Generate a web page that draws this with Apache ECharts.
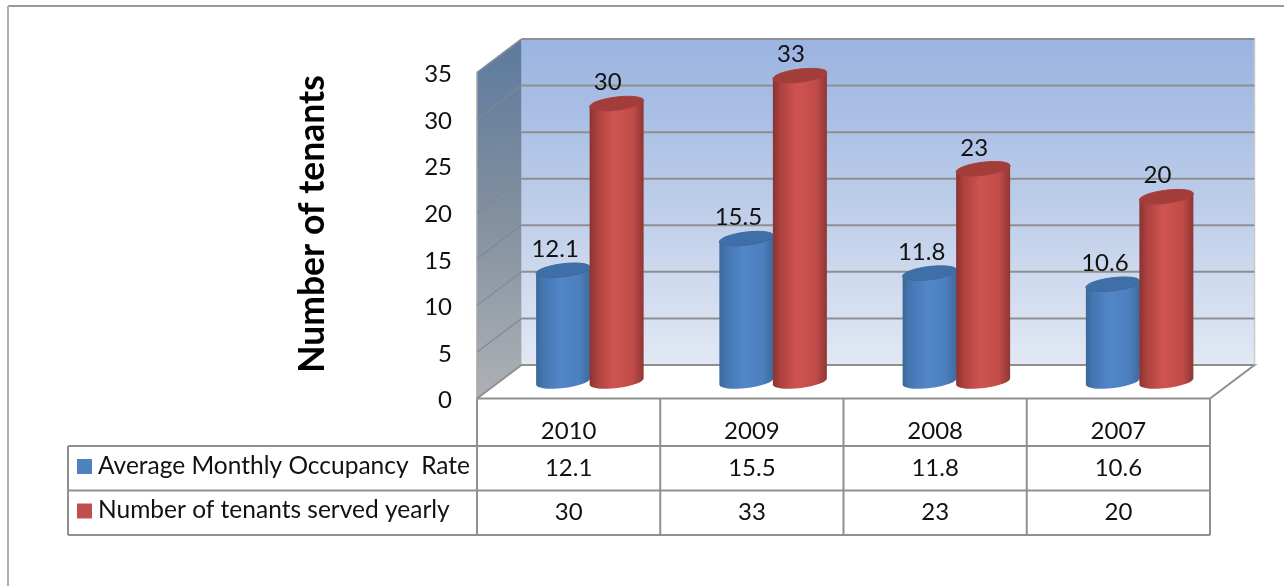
<!DOCTYPE html>
<html><head><meta charset="utf-8">
<style>html,body{margin:0;padding:0;background:#fff}#c{width:1284px;height:586px}</style>
<script src="https://cdn.jsdelivr.net/npm/echarts@6/dist/echarts.min.js"></script>
</head><body><div id="c"></div>
<script>
const categories = ['2010', '2009', '2008', '2007'];
const occupancyName = 'Average Monthly Occupancy  Rate';
const tenantsName = 'Number of tenants served yearly';
const occupancy = [12.1, 15.5, 11.8, 10.6];
const tenants = [30, 33, 23, 20];
const yTicks = [0, 5, 10, 15, 20, 25, 30, 35];
const yTitle = 'Number of tenants';

const FONT = 'Lato';
const FS = 24;
const DX = 44.5, DY = -33.5;
const LINE = '#8f8f8f';
const chart = echarts.init(document.getElementById('c'), null, {renderer: 'canvas'});

function linear(stops, vertical) {
  return {type: 'linear', x: 0, y: 0, x2: vertical ? 0 : 1, y2: vertical ? 1 : 0,
    colorStops: stops.map(s => ({offset: s[0], color: s[1]}))};
}
function cylinder(offset, body, cap, capEdge, labelDx) {
  return function (params, api) {
    const i = api.value(0), v = api.value(1);
    const top = api.coord([i, v]), base = api.coord([i, 0]);
    const cx = top[0] + offset, rx = 27, ry = 6.5, t = 3.3;
    const ty = top[1] - 15.5, by = base[1] - 17;
    const rot = -7;
    const d = `M${cx - rx} ${ty + t} L${cx - rx} ${by + t} A${rx} ${ry} ${rot} 0 0 ${cx + rx} ${by - t} L${cx + rx} ${ty - t} Z`;
    const e = `M${cx - rx} ${ty + t} A${rx} ${ry} ${rot} 0 1 ${cx + rx} ${ty - t} A${rx} ${ry} ${rot} 0 1 ${cx - rx} ${ty + t} Z`;
    return {type: 'group', children: [
      {type: 'path', shape: {pathData: d}, style: {fill: linear(body), stroke: null}},
      {type: 'path', shape: {pathData: e}, style: {fill: cap, stroke: capEdge, lineWidth: 1}},
      {type: 'text', x: cx + labelDx, y: ty - 21, style: {text: String(v), font: FS + 'px ' + FONT, fill: '#111', align: 'center', verticalAlign: 'middle'}}
    ]};
  };
}
const blueBody = [[0, '#3a6797'], [0.12, '#4375b0'], [0.45, '#5286c9'], [0.8, '#4c7fbe'], [1, '#3f6a9b']];
const redBody = [[0, '#873331'], [0.14, '#ad413e'], [0.45, '#cf5451'], [0.8, '#c04b48'], [1, '#8f3633']];

const walls = function (params, api) {
  const c = params.coordSys, x0 = c.x, x1 = c.x + c.width, y0 = c.y, y1 = c.y + c.height;
  return {type: 'group', children: [
    {type: 'polygon', shape: {points: [[x0 + DX, y0 + DY], [x1 + DX, y0 + DY], [x1 + DX, y1 + DY], [x0 + DX, y1 + DY]]},
      style: {fill: linear([[0, '#9ab3e0'], [0.5, '#bccde9'], [1, '#e2e8f4']], true)}},
    {type: 'polygon', shape: {points: [[x0, y0], [x0 + DX, y0 + DY], [x0 + DX, y1 + DY], [x0, y1]]},
      style: {fill: linear([[0, '#5c7a9e'], [0.5, '#83909f'], [1, '#aeb1b6']], true)}},
    {type: 'polyline', shape: {points: [[x0, y1], [x0, y0], [x0 + DX, y0 + DY]]}, style: {stroke: '#a6a6a6', lineWidth: 1.5, fill: null}},
    {type: 'polyline', shape: {points: [[x0, y1], [x0 + DX, y1 + DY], [x1 + DX, y1 + DY], [x1, y1], [x0, y1]]}, style: {stroke: LINE, lineWidth: 2, fill: null}},
    {type: 'line', shape: {x1: x1 + DX, y1: y0 + DY, x2: x1 + DX, y2: y1 + DY}, style: {stroke: '#c9c9c9', lineWidth: 1.5}}
  ]};
};
const gridLines = function (params, api) {
  const c = params.coordSys, v = api.value(0), p = api.coord([0, v]);
  const x0 = c.x, x1 = c.x + c.width, y = p[1];
  if (v === 0) return {type: 'group', children: []};
  return {type: 'group', children: [
    {type: 'line', shape: {x1: x0, y1: y, x2: x0 + DX, y2: y + DY}, style: {stroke: '#7f8894', lineWidth: 1.2}},
    {type: 'line', shape: {x1: x0 + DX, y1: y + DY, x2: x1 + DX, y2: y + DY}, style: {stroke: LINE, lineWidth: 2}}
  ]};
};
// Data table below the plot: rows hang from the axis baseline.
const ROW0 = 47.5, ROWH = 44.5, TABLE_LEFT = 68;
const tableFrame = function (params, api) {
  const c = params.coordSys, x0 = c.x, x1 = c.x + c.width, b = c.y + c.height;
  const r1 = b + ROW0, r2 = r1 + ROWH, r3 = r2 + ROWH;
  const kids = [];
  const l = (a, b2, c2, d) => kids.push({type: 'line', shape: {x1: a, y1: b2, x2: c2, y2: d}, style: {stroke: LINE, lineWidth: 2}});
  l(TABLE_LEFT, r1, x1, r1); l(TABLE_LEFT, r2, x1, r2); l(TABLE_LEFT, r3, x1, r3);
  l(TABLE_LEFT, r1, TABLE_LEFT, r3);
  const step = c.width / categories.length;
  for (let k = 0; k <= categories.length; k++) l(x0 + step * k, b, x0 + step * k, r3);
  const key = (row, color, name) => {
    kids.push({type: 'rect', shape: {x: 77, y: row + 13, width: 15, height: 15}, style: {fill: color}});
    kids.push({type: 'text', x: 98, y: row + 20, style: {text: name, font: '24.5px ' + FONT, fill: '#111', verticalAlign: 'middle', align: 'left'}});
  };
  key(r1, '#4f81bd', occupancyName);
  key(r2, '#c0504d', tenantsName);
  return {type: 'group', children: kids};
};
const tableValues = function (params, api) {
  const c = params.coordSys, i = api.value(0), p = api.coord([i, 0]);
  const r1 = c.y + c.height + ROW0;
  const t = (row, s) => ({type: 'text', x: p[0], y: r1 + ROWH * row + 22, style: {text: String(s), font: FS + 'px ' + FONT, fill: '#111', align: 'center', verticalAlign: 'middle'}});
  return {type: 'group', children: [t(0, api.value(1)), t(1, api.value(2))]};
};

chart.setOption({
  animation: false,
  backgroundColor: '#fff',
  grid: {left: 477, top: 72.5, width: 733, height: 326},
  xAxis: {type: 'category', data: categories, axisLine: {show: false}, axisTick: {show: false},
    axisLabel: {margin: 21, fontFamily: FONT, fontSize: FS, color: '#111'}},
  yAxis: {type: 'value', min: 0, max: 35, interval: 5, splitLine: {show: false}, axisLine: {show: false}, axisTick: {show: false},
    axisLabel: {margin: 25, fontFamily: FONT, fontSize: FS, color: '#111', verticalAlign: 'top', lineHeight: 4},
    name: yTitle, nameLocation: 'middle', nameRotate: 90, nameGap: 146,
    nameTextStyle: {fontFamily: FONT, fontWeight: 'bold', fontSize: 35.5, color: '#000', padding: [0, 0, 0, 23]}},
  graphic: [
    {type: 'line', silent: true, shape: {x1: 8, y1: 6, x2: 1284, y2: 6}, style: {stroke: '#9a9a9a', lineWidth: 2}},
    {type: 'line', silent: true, shape: {x1: 8, y1: 6, x2: 8, y2: 586}, style: {stroke: '#b0b0b0', lineWidth: 2}}
  ],
  series: [
    {type: 'custom', name: 'walls', renderItem: walls, data: [[0]], z: 1, silent: true},
    {type: 'custom', name: 'grid', renderItem: gridLines, data: yTicks.map(v => [v]), encode: {x: -1, y: 0}, z: 2, silent: true},
    {type: 'custom', name: 'table', renderItem: tableFrame, data: [[0]], z: 2, silent: true},
    {type: 'custom', name: 'tableValues', renderItem: tableValues, data: categories.map((c, i) => [i, occupancy[i], tenants[i]]), z: 3, silent: true},
    {type: 'custom', name: occupancyName, renderItem: cylinder(-5.5, blueBody, '#3f6fa8', '#44699a', -8),
      data: occupancy.map((v, i) => [i, v]), encode: {x: 0, y: 1}, z: 4},
    {type: 'custom', name: tenantsName, renderItem: cylinder(48, redBody, '#a33d39', '#a8403d', -9),
      data: tenants.map((v, i) => [i, v]), encode: {x: 0, y: 1}, z: 5}
  ]
});
</script></body></html>
